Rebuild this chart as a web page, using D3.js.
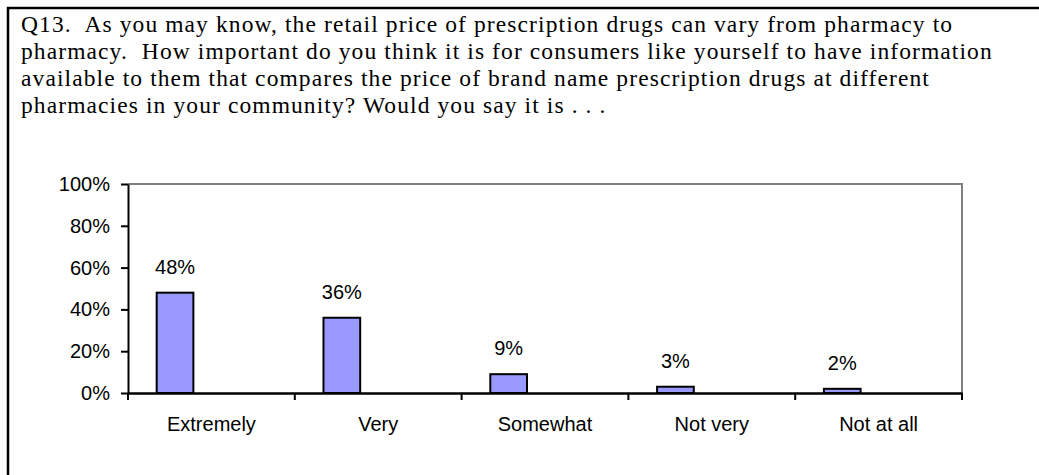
<!DOCTYPE html>
<html>
<head>
<meta charset="utf-8">
<script src="https://cdn.jsdelivr.net/npm/d3@7"></script>
<style>
    body { margin: 0; background: #fff; }
    .title { font-family: "Times New Roman", "Liberation Serif", serif; font-size: 23.5px; letter-spacing: 1.1px; fill: #000; white-space: pre; }
    .chart text { font-family: Arial, "Liberation Sans", sans-serif; font-size: 20px; fill: #000; }
</style>
</head>
<body>
<script>

// question text, one entry per line as in the survey report
const questionLines = [
    "Q13.  As you may know, the retail price of prescription drugs can vary from pharmacy to",
    "pharmacy.  How important do you think it is for consumers like yourself to have information",
    "available to them that compares the price of brand name prescription drugs at different",
    "pharmacies in your community? Would you say it is . . ."
];

// answers and share of respondents
const categories = ["Extremely", "Very", "Somewhat", "Not very", "Not at all"];
const shares = [0.48, 0.36, 0.09, 0.03, 0.02];
const yTicks = [0, 0.2, 0.4, 0.6, 0.8, 1];

window.onload = function() {
    drawChart();
};


/** Draws the question and the bar chart. */
function drawChart() {

    const width = 1039;
    const height = 475;

    // plot area
    const left = 128;
    const right = 962;
    const top = 184;
    const bottom = 393;

    let svg = d3.select("body")
                .append("svg")
                .attr("width", width)
                .attr("height", height);

    // frame around the slide (only left and top edges are in view)
    svg.append("path")
       .attr("d", "M8," + height + "V8H" + width)
       .attr("fill", "none")
       .attr("stroke", "#000")
       .attr("stroke-width", 2.5);

    // question text
    svg.append("g")
       .selectAll("text")
       .data(questionLines)
       .enter()
       .append("text")
       .attr("class", "title")
       .attr("xml:space", "preserve")
       .attr("x", 21)
       .attr("y", function(d, i) { return 32 + i * 27; })
       .text(function(d) { return d; });

    let xScale = d3.scaleBand()
                   .domain(categories)
                   .range([left, right]);

    let yScale = d3.scaleLinear()
                   .domain([0, 1])
                   .range([bottom, top]);

    let chart = svg.append("g").attr("class", "chart");

    // grey top and right border of the plot area
    chart.append("path")
         .attr("d", "M" + left + "," + top + "H" + right + "V" + bottom)
         .attr("fill", "none")
         .attr("stroke", "#808080")
         .attr("stroke-width", 2);

    // bars
    let bw = xScale.bandwidth();
    chart.selectAll(".bar")
         .data(shares)
         .enter()
         .append("rect")
         .attr("class", "bar")
         .attr("x", function(d, i) { return xScale(categories[i]) + bw * 0.172; })
         .attr("y", function(d) { return yScale(d); })
         .attr("width", bw * 0.22)
         .attr("height", function(d) { return bottom - yScale(d); })
         .attr("fill", "#9999ff")
         .attr("stroke", "#000")
         .attr("stroke-width", 2);

    // value labels above bars
    chart.selectAll(".value")
         .data(shares)
         .enter()
         .append("text")
         .attr("class", "value")
         .attr("x", function(d, i) { return xScale(categories[i]) + bw * 0.282; })
         .attr("y", function(d) { return yScale(d) - 19; })
         .attr("text-anchor", "middle")
         .text(function(d) { return d3.format(".0%")(d); });

    // y axis
    let yAxis = chart.append("g")
                     .attr("transform", "translate(" + left + ",0)")
                     .call(d3.axisLeft(yScale)
                             .tickValues(yTicks)
                             .tickFormat(d3.format(".0%"))
                             .tickSize(7)
                             .tickSizeOuter(0)
                             .tickPadding(11));
    yAxis.select(".domain").attr("stroke", "#000").attr("stroke-width", 2);
    yAxis.selectAll(".tick line").attr("stroke", "#000").attr("stroke-width", 2);
    yAxis.selectAll("text").style("font-size", "20px").attr("fill", "#000");

    // x axis: labels centred in each band, ticks on the band edges
    let xAxis = chart.append("g")
                     .attr("transform", "translate(0," + bottom + ")")
                     .call(d3.axisBottom(xScale)
                             .tickSize(0)
                             .tickSizeOuter(0)
                             .tickPadding(24));
    xAxis.select(".domain").attr("stroke", "#000").attr("stroke-width", 2.5);
    xAxis.selectAll("text").style("font-size", "20px").attr("fill", "#000");

    let edges = categories.map(function(c) { return xScale(c); }).concat([right]);
    xAxis.selectAll(".edge")
         .data(edges)
         .enter()
         .append("line")
         .attr("class", "edge")
         .attr("x1", function(d) { return d; })
         .attr("x2", function(d) { return d; })
         .attr("y1", 0)
         .attr("y2", 7)
         .attr("stroke", "#000")
         .attr("stroke-width", 2);
}
</script>
</body>
</html>
